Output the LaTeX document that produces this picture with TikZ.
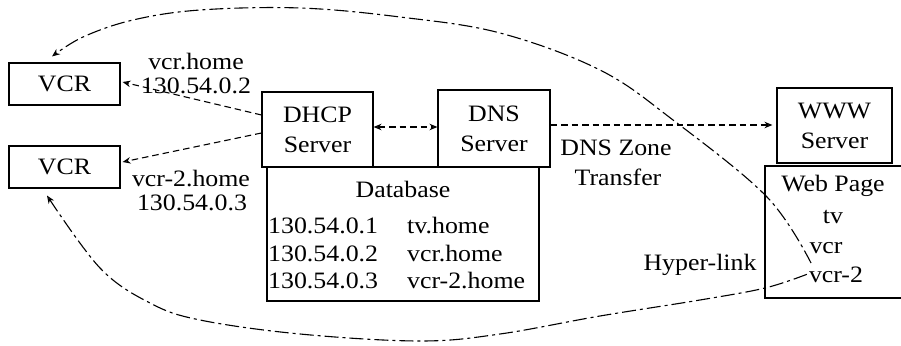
\documentclass[tikz,border=0pt]{standalone}
\usepackage{fontspec}
\setmainfont{Liberation Serif}[FakeStretch=1.1]
\usetikzlibrary{arrows.meta}
\tikzset{
  box/.style={draw, line width=1.1pt, inner sep=0pt, align=center},
  txt/.style={inner sep=0pt, anchor=base},
  dsh/.style={line width=1.1pt, dash pattern=on 6.5pt off 4pt},
  dd/.style={line width=1.1pt, dash pattern=on 14pt off 4pt on 3pt off 4pt},
}
\begin{document}
\begin{tikzpicture}[x=1pt, y=-1pt, font=\fontsize{23.5}{30}\selectfont,
  >={Stealth[length=8pt,width=6.5pt,fill=gray!45]}]
\useasboundingbox (0,0) rectangle (901,345);
% boxes
\node[box, minimum width=111pt, minimum height=42pt] (vcr1) at (64.5,84) {VCR};
\node[box, minimum width=111pt, minimum height=42pt] (vcr2) at (64.5,167) {VCR};
\node[box, minimum width=111pt, minimum height=75pt] (dhcp) at (317.5,129.5) {DHCP\\Server};
\node[box, minimum width=112pt, minimum height=77pt] (dns) at (494,128.5) {DNS\\Server};
\node[box, minimum width=272pt, minimum height=134pt] (db) at (403,234) {};
\node[box, minimum width=115pt, minimum height=75pt] (www) at (834.5,125.5) {WWW\\Server};
\node[box, minimum width=137pt, minimum height=132pt] (wp) at (833.5,232) {};
% database text
\node[txt] (dbt) at (403,197) {Database};
\node[txt, anchor=base west] (ip1) at (268,233) {130.54.0.1};
\node[txt, anchor=base west] (ip2) at (268,261) {130.54.0.2};
\node[txt, anchor=base west] (ip3) at (268,288) {130.54.0.3};
\node[txt, anchor=base west] (h1) at (407,233) {tv.home};
\node[txt, anchor=base west] (h2) at (407,261) {vcr.home};
\node[txt, anchor=base west] (h3) at (407,288) {vcr-2.home};
% web page text
\node[txt] (wpt) at (833,191) {Web Page};
\node[txt] (wtv) at (833,223) {tv};
\node[txt] (wvcr) at (826,253) {vcr};
\node[txt, inner sep=2pt] (wvcr2) at (836,282) {vcr-2};
% labels
\node[txt] (l1a) at (196,70) {vcr.home};
\node[txt] (l1b) at (196,93) {130.54.0.2};
\node[txt] (l2a) at (191,186) {vcr-2.home};
\node[txt] (l2b) at (192,210) {130.54.0.3};
\node[txt] (dz1) at (616,155) {DNS Zone};
\node[txt] (dz2) at (618,185) {Transfer};
\node[txt] (hl) at (700,270) {Hyper-link};
% dashed connectors
\draw[dsh,->] (dhcp.west |- 0,115) -- ([xshift=2pt]vcr1.east |- 0,82);
\draw[dsh,->] (dhcp.west |- 0,133) -- ([xshift=2pt]vcr2.east |- 0,162);
\draw[dsh,<->] (dhcp.east |- 0,127) -- (dns.west |- 0,127);
\draw[dsh,->] (dns.east |- 0,125) -- ([xshift=-4pt]www.west |- 0,125);
% hyper-links
\coordinate (t1) at ([xshift=-12.5pt,yshift=6pt]vcr1.north);
\coordinate (t2) at ([xshift=-17.5pt,yshift=-7pt]vcr2.south);
\draw[dd,->] plot[smooth, tension=0.6] coordinates {([xshift=-15pt,yshift=-10pt]wvcr.base) (767,197) (673,120) (600,70) (500,33) (400,17) (300,8) (200,10) (133,20) (83,37) (t1)};
\draw[dd,->] plot[smooth, tension=0.6] coordinates {(wvcr2.west) (765,288) (700,300) (600,316) (500,334) (420,341) (300,334) (200,320) (150,303) (100,268) (t2)};
\end{tikzpicture}
\end{document}
